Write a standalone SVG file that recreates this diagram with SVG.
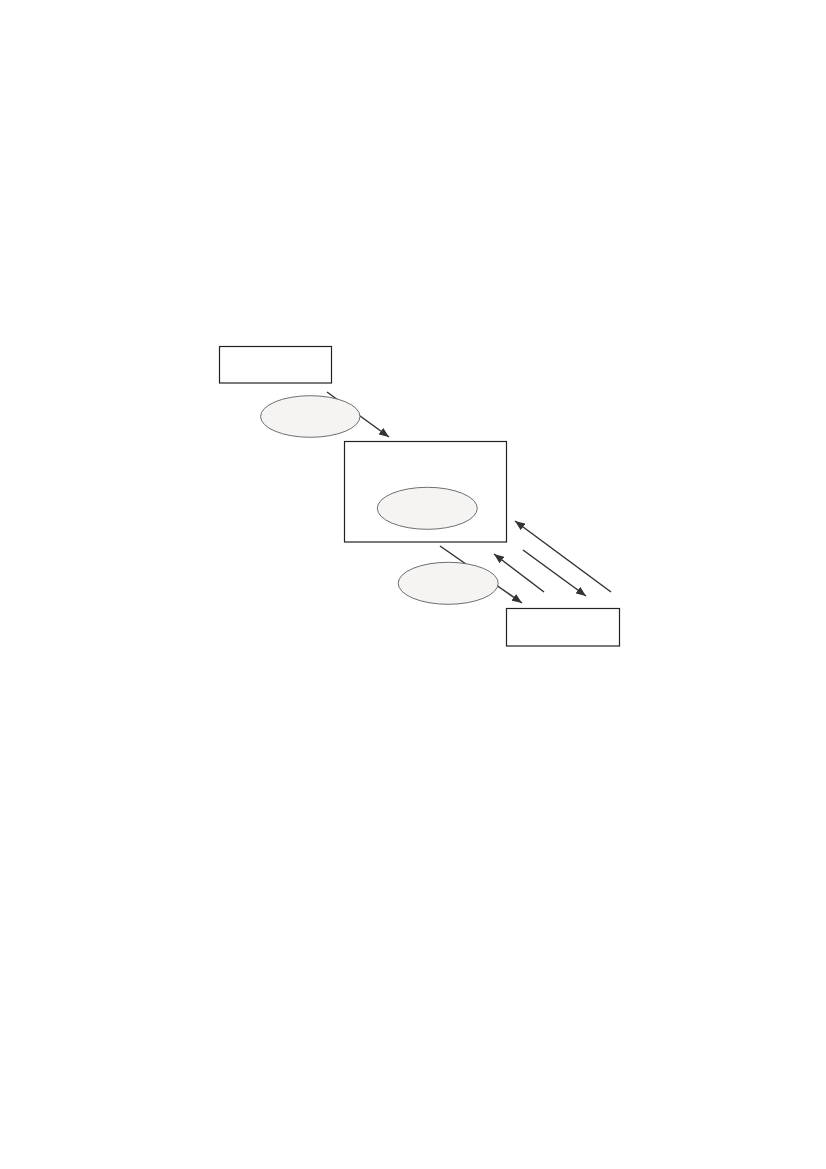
<svg xmlns="http://www.w3.org/2000/svg" width="826" height="1169" viewBox="0 0 826 1169">
<style>
.box{fill:#fff;stroke:#222;stroke-width:1.2}
.oval{fill:#f5f4f2;stroke:#6e6e6e;stroke-width:1}
.conn{stroke:#333;stroke-width:1.5;fill:none;marker-end:url(#ah)}
</style>
<defs>
<marker id="ah" viewBox="0 0 10 8" refX="10" refY="4" markerWidth="10" markerHeight="8" markerUnits="userSpaceOnUse" orient="auto">
<path d="M0,0 L10,4 L0,8 Z" fill="#333"/>
</marker>
</defs>
<rect width="826" height="1169" fill="#fff"/>
<g id="connectors">
<line class="conn" x1="327" y1="392" x2="389" y2="437"/>
<line class="conn" x1="440" y1="546" x2="522" y2="603"/>
<line class="conn" x1="544" y1="592" x2="494" y2="554"/>
<line class="conn" x1="523" y1="550" x2="586" y2="596"/>
<line class="conn" x1="611" y1="592" x2="515" y2="521"/>
</g>
<g id="node-a"><rect class="box" x="219.5" y="346.5" width="112" height="36.5"/></g>
<g id="node-b"><rect class="box" x="344.5" y="441.5" width="162" height="100.5"/></g>
<g id="node-c"><rect class="box" x="506.5" y="608.5" width="113" height="37.5"/></g>
<g id="oval-1"><ellipse class="oval" cx="310.3" cy="416.5" rx="49.7" ry="20.8"/></g>
<g id="oval-2"><ellipse class="oval" cx="427.3" cy="508.3" rx="50" ry="21"/></g>
<g id="oval-3"><ellipse class="oval" cx="448.2" cy="583.3" rx="50" ry="21"/></g>
</svg>
